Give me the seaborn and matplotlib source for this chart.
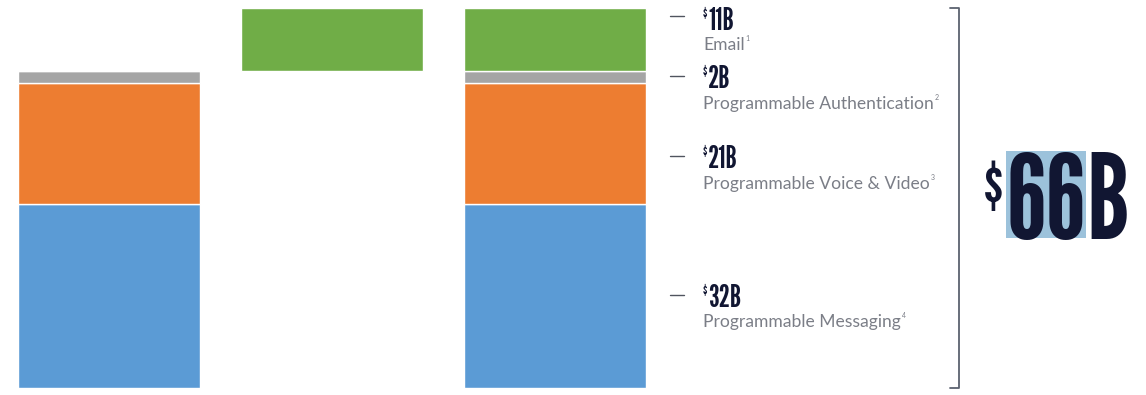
import numpy as np
import pandas as pd
import seaborn as sns
import matplotlib
matplotlib.use('Agg')
import matplotlib.pyplot as plt
from matplotlib.lines import Line2D
from matplotlib.patches import Rectangle

# ---- data (USD billions) ----
bars = ['Current', 'Email', 'Total']
offset = [0, 55, 0]          # invisible base so the email bar floats
messaging = [32, 0, 32]
voice = [21, 0, 21]
auth = [2, 0, 2]
email = [0, 11, 11]

seg_names = ['Email', 'Programmable Authentication',
             'Programmable Voice & Video', 'Programmable Messaging']
seg_values = ['11B', '2B', '21B', '32B']
seg_notes = ['1', '2', '3', '4']
total_label = '66'

W, H = 1146, 395
NAVY = '#111632'
GREY_TXT = '#7b7e87'
NARROW = ['League Gothic', 'DejaVu Sans']
LATO = ['Lato', 'DejaVu Sans']

sns.set_style('white')
fig = plt.figure(figsize=(W / 100, H / 100), dpi=100)
ax = fig.add_axes([17.6 / W, 7 / H, 628.8 / W, 380 / H])

layers = [(offset, 'none'), (messaging, '#5b9bd5'), (voice, '#ed7d31'),
          (auth, '#a5a5a5'), (email, '#70ad47')]
bottom = np.zeros(len(bars))
for vals, col in layers:
    sns.barplot(x=bars, y=vals, color=col, width=0.816, bottom=bottom,
                edgecolor='white' if col != 'none' else 'none',
                linewidth=1, saturation=1, ax=ax)
    bottom = bottom + np.array(vals)

ax.set_xlim(-0.41, 2.41)
ax.set_ylim(0, 66)
ax.axis('off')


def fx(px):
    return px / W


def fy(py):
    return 1 - py / H


fig.canvas.draw()
renderer = fig.canvas.get_renderer()


def right_edge(t):
    return t.get_window_extent(renderer).x1


# ---- segment labels ----
dash_y = [16, 76, 155.5, 295]
value_base = [30, 88, 168, 307]
name_base = [50, 109, 189, 327]
for i in range(4):
    fig.add_artist(Line2D([fx(670), fx(684)], [fy(dash_y[i])] * 2,
                          color='#50545f', lw=1))
    d = fig.text(fx(703), fy(value_base[i] - 12), '$', fontsize=10,
                 color=NAVY, family=NARROW, va='baseline')
    fig.text(right_edge(d) / W + 0.0005, fy(value_base[i]), seg_values[i],
             fontsize=22, color=NAVY, family=NARROW, va='baseline')
    n = fig.text(fx(703), fy(name_base[i]), seg_names[i], fontsize=12.6,
                 color=GREY_TXT, family=LATO, va='baseline')
    fig.text(right_edge(n) / W + 0.001, fy(name_base[i] - 9), seg_notes[i],
             fontsize=5, color=GREY_TXT, family=LATO, va='baseline')

# ---- bracket ----
fig.add_artist(Line2D([fx(950), fx(959), fx(959), fx(950)],
                      [fy(8), fy(8), fy(388), fy(388)],
                      color='#5c6270', lw=1.3))

# ---- total ----
s = fig.text(fx(984), fy(207), '$', fontsize=44, color=NAVY,
             family=NARROW, va='baseline')
fig.canvas.draw()
t = fig.text(right_edge(s) / W + 0.003, fy(238), total_label, fontsize=84,
             color=NAVY, family=NARROW, va='baseline', zorder=3)
fig.canvas.draw()
ext = t.get_window_extent(renderer)
fig.add_artist(Rectangle((ext.x0 / W, fy(238)), ext.width / W, 87 / H,
                         facecolor='#9cc2db', edgecolor='none', zorder=2))
fig.text(ext.x1 / W, fy(238), 'B', fontsize=84, color=NAVY,
         family=NARROW, va='baseline', zorder=3)

fig.savefig('out.png', dpi=100)
